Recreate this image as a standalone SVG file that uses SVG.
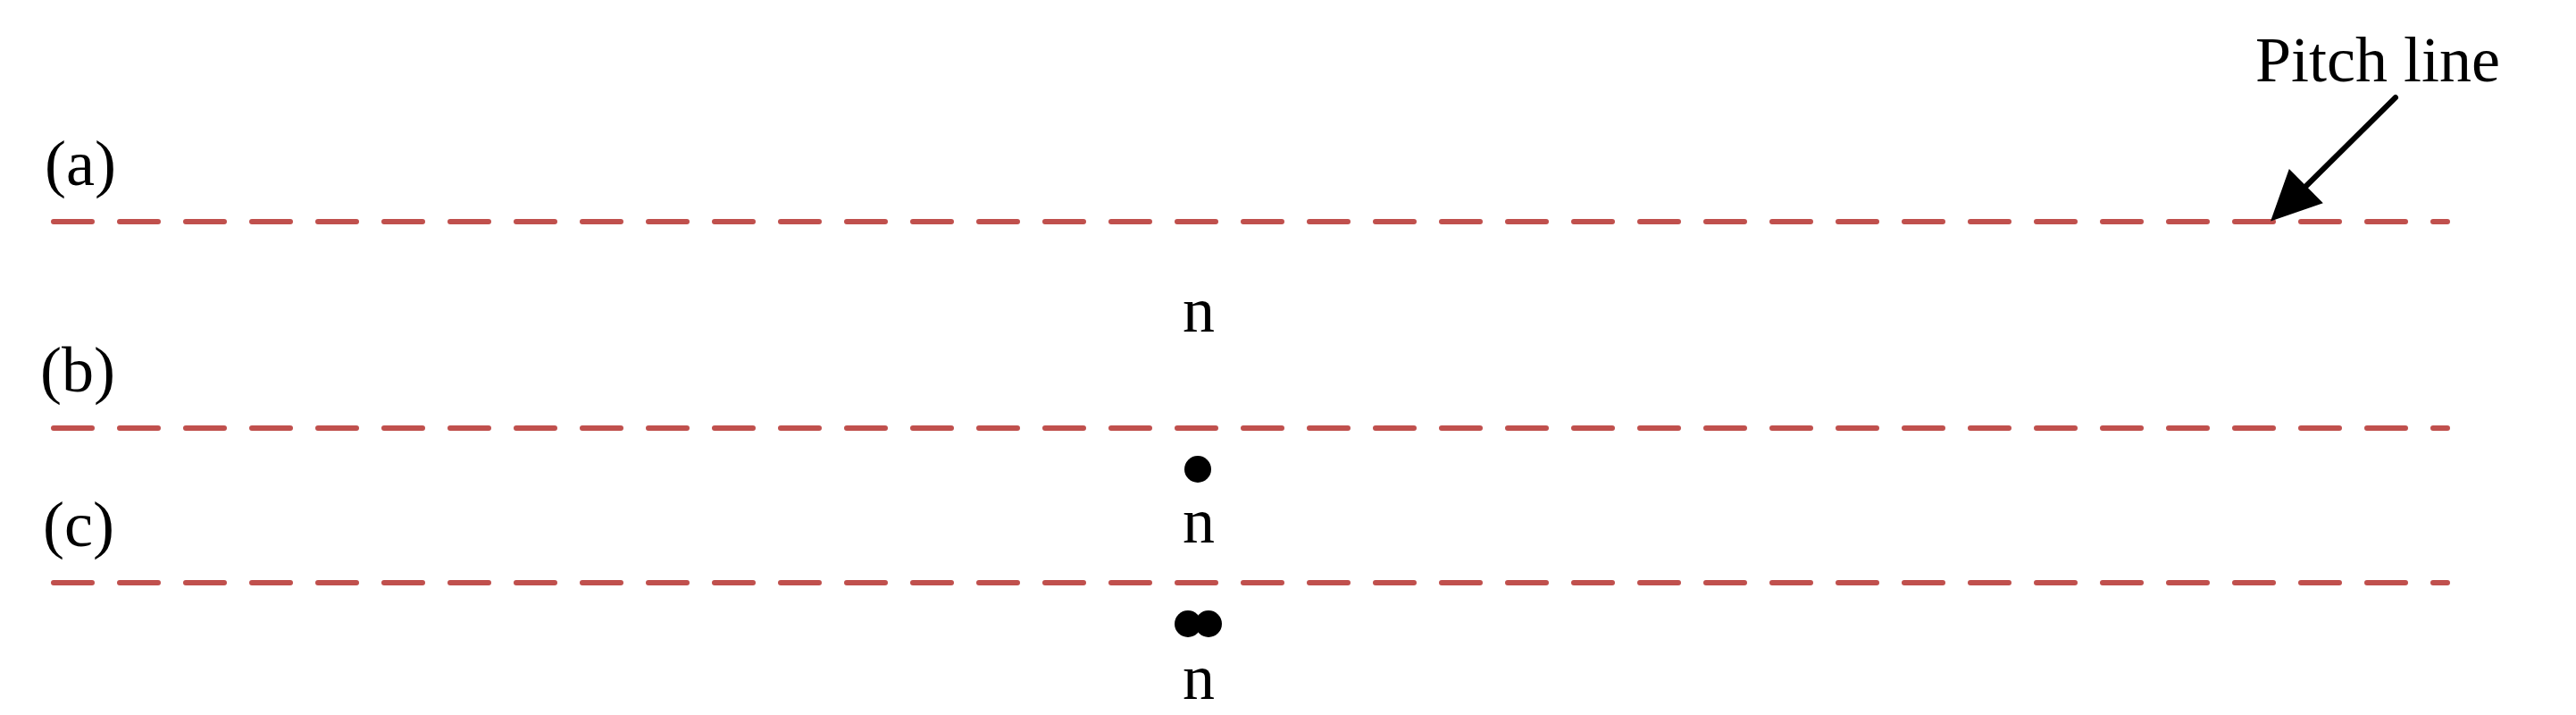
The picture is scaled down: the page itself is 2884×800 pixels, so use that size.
<svg xmlns="http://www.w3.org/2000/svg" width="2884" height="800" viewBox="0 0 2884 800">
<style>
.pitch{stroke:#C0504D;stroke-width:6;stroke-dasharray:43 31;stroke-linecap:round;fill:none}
.t{font-family:"Liberation Serif","Times New Roman",serif;font-size:72px;fill:#000}
.dot{fill:#000}
</style>
<defs>
<marker id="ah" markerUnits="userSpaceOnUse" markerWidth="80" markerHeight="80" refX="-52" refY="0" viewBox="-70 -40 80 80" orient="auto" overflow="visible">
<path d="M0,0 L-56,-27 L-56,27 Z" fill="#000"/>
</marker>
</defs>
<rect width="2884" height="800" fill="#fff"/>
<g id="connectors">
<line class="pitch" x1="60" y1="248" x2="2740" y2="248"/>
<line class="pitch" x1="60" y1="479" x2="2740" y2="479"/>
<line class="pitch" x1="60" y1="652" x2="2740" y2="652"/>
<line x1="2682" y1="109" x2="2579" y2="211" stroke="#000" stroke-width="6" stroke-linecap="round" marker-end="url(#ah)"/>
</g>
<g id="label-pitch"><text class="t" x="2525" y="91">Pitch line</text></g>
<g id="label-a"><text class="t" x="50" y="207">(a)</text></g>
<g id="label-b"><text class="t" x="45" y="438">(b)</text></g>
<g id="label-c"><text class="t" x="48" y="611">(c)</text></g>
<g id="node-a"><text class="t" x="1342" y="371" text-anchor="middle">n</text></g>
<g id="node-b">
<circle class="dot" cx="1341" cy="525" r="15"/>
<text class="t" x="1342" y="607" text-anchor="middle">n</text>
</g>
<g id="node-c">
<circle class="dot" cx="1330" cy="698" r="15"/>
<circle class="dot" cx="1353" cy="698" r="15"/>
<text class="t" x="1342" y="782" text-anchor="middle">n</text>
</g>
</svg>
